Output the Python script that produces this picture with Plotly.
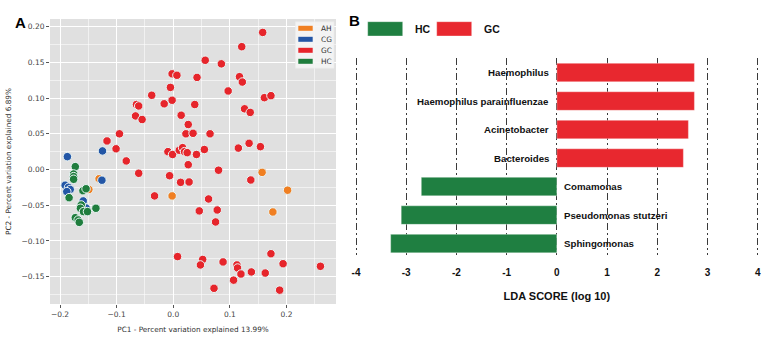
import plotly.graph_objects as go

# ---------------- Panel A : PCA scores ----------------
groups = ["AH", "CG", "GC", "HC"]
group_colors = {"AH": "#F07F22", "CG": "#2356A6", "GC": "#E6252B", "HC": "#1F7D3D"}

ah_pc1 = [-0.131, -0.149, -0.002, 0.157, 0.202, 0.176]
ah_pc2 = [-0.013, -0.028, -0.037, -0.004, -0.029, -0.0595]

cg_pc1 = [-0.187, -0.125, -0.126, -0.191, -0.185, -0.182, -0.188, -0.159, -0.154]
cg_pc2 = [0.018, 0.026, -0.015, -0.022, -0.025, -0.028, -0.031, -0.044, -0.054]

gc_pc1 = [0.158, 0.121, 0.0565, 0.085, -0.002, 0.0065, 0.042, 0.117, 0.122, -0.005,
          0.097, -0.038, 0.161, 0.1726, -0.002, -0.016, -0.065, -0.061, 0.038, 0.126,
          0.136, 0.014, -0.0666, -0.055, 0.0265, 0.0224, 0.035, 0.065, -0.095, -0.117,
          -0.101, 0.115, 0.134, 0.154, -0.0094, -0.0012, 0.0106, 0.0165, 0.020, 0.0247,
          0.041, 0.055, -0.083, 0.0265, 0.080, -0.061, -0.0065, 0.013, 0.028, 0.137,
          -0.033, 0.0624, 0.046, 0.0777, 0.0748, 0.0076, 0.052, 0.048, 0.088, 0.1125,
          0.1136, 0.1196, 0.1066, 0.138, 0.1625, 0.1726, 0.194, 0.188, 0.072, 0.260]
gc_pc2 = [0.192, 0.172, 0.153, 0.148, 0.134, 0.132, 0.129, 0.130, 0.1225, 0.115,
          0.110, 0.104, 0.1006, 0.1034, 0.097, 0.092, 0.091, 0.089, 0.091, 0.085,
          0.080, 0.076, 0.075, 0.070, 0.063, 0.050, 0.0507, 0.050, 0.050, 0.040,
          0.029, 0.030, 0.0367, 0.032, 0.025, 0.021, 0.027, 0.0306, 0.025, 0.0236,
          0.021, 0.028, 0.012, 0.0067, -0.001, -0.0053, -0.0087, -0.018, -0.0175, -0.0147,
          -0.037, -0.0413, -0.058, -0.0567, -0.0735, -0.122, -0.126, -0.1337, -0.1295, -0.1337,
          -0.138, -0.1464, -0.155, -0.1435, -0.145, -0.118, -0.132, -0.169, -0.1664, -0.1356]

hc_pc1 = [-0.173, -0.176, -0.176, -0.176, -0.184, -0.1595, -0.154, -0.1625, -0.164,
          -0.1585, -0.1515, -0.1366, -0.173, -0.168, -0.166]
hc_pc2 = [0.004, -0.0063, -0.010, -0.0137, -0.0395, -0.0297, -0.027, -0.0497, -0.0543,
          -0.059, -0.059, -0.0543, -0.0675, -0.0707, -0.074]

pc1 = {"AH": ah_pc1, "CG": cg_pc1, "GC": gc_pc1, "HC": hc_pc1}
pc2 = {"AH": ah_pc2, "CG": cg_pc2, "GC": gc_pc2, "HC": hc_pc2}

# ---------------- Panel B : LEfSe LDA scores ----------------
taxa = ["Haemophilus", "Haemophilus parainfluenzae", "Acinetobacter", "Bacteroides",
        "Comamonas", "Pseudomonas stutzeri", "Sphingomonas"]
lda_score = [2.74, 2.74, 2.62, 2.52, -2.70, -3.10, -3.31]
lda_group = ["GC", "GC", "GC", "GC", "HC", "HC", "HC"]
lda_groups = ["HC", "GC"]
lda_colors = {"HC": "#1F7F41", "GC": "#E8282F"}
lda_ticks = [-4, -3, -2, -1, 0, 1, 2, 3, 4]
lda_ticktext = ["-4", "-3", "-2", "-1", "0", "1", "2", "3", "4"]

W, H = 767, 342
fig = go.Figure()

dv = "DejaVu Sans"
ar = "Liberation Sans"

for g in groups:
    fig.add_trace(go.Scatter(
        x=pc1[g], y=pc2[g], mode="markers", name=g, showlegend=False,
        xaxis="x", yaxis="y",
        marker=dict(size=8.5, color=group_colors[g], line=dict(width=1, color="#EAF5F5")),
    ))

for g in lda_groups:
    xs = [v for v, gg in zip(lda_score, lda_group) if gg == g]
    ys = [t for t, gg in zip(taxa, lda_group) if gg == g]
    fig.add_trace(go.Bar(
        x=xs, y=ys, orientation="h", name=g, showlegend=False, xaxis="x2", yaxis="y2",
        marker=dict(color=lda_colors[g], line=dict(width=1, color="rgba(255,255,255,0.35)")),
    ))

annotations = []
shapes = [dict(type="rect", xref="x domain", yref="y domain", x0=0, x1=1, y0=0, y1=1,
               fillcolor="#E0E0E0", line=dict(width=0), layer="below")]

# bar labels next to the zero line
for t, v in zip(taxa, lda_score):
    annotations.append(dict(
        x=0, y=t, xref="x2", yref="y2", text=t, showarrow=False,
        xanchor="right" if v > 0 else "left", xshift=-6 if v > 0 else 5,
        font=dict(family=ar, size=9.7, color="#111", weight="bold"),
    ))
annotations.append(dict(x=12.5 / W, y=1 - 11.7 / H, xref="paper", yref="paper", text="A",
                        showarrow=False, font=dict(family=ar, size=15, color="black", weight="bold")))
annotations.append(dict(x=354 / W, y=1 - 10.3 / H, xref="paper", yref="paper", text="B",
                        showarrow=False, font=dict(family=ar, size=15, color="black", weight="bold")))

# compact legend for panel A (matplotlib-style patches)
leg_left, leg_right, leg_top, row_h = 295.5, 334.0, 21.7, 11.0
shapes.append(dict(type="rect", xref="paper", yref="paper",
                   x0=leg_left / W, x1=leg_right / W,
                   y0=1 - (leg_top + 4 * row_h + 2.5) / H, y1=1 - leg_top / H,
                   fillcolor="rgba(245,245,245,0.9)", line=dict(width=0.6, color="rgba(235,235,235,1)"),
                   layer="above"))
for i, g in enumerate(groups):
    cy = leg_top + 6.6 + i * row_h
    shapes.append(dict(type="rect", xref="paper", yref="paper",
                       x0=298.3 / W, x1=312.7 / W, y0=1 - (cy + 2.5) / H, y1=1 - (cy - 2.5) / H,
                       fillcolor=group_colors[g], line=dict(width=0), layer="above"))
    annotations.append(dict(x=318.5 / W, y=1 - cy / H, xref="paper", yref="paper", text=g,
                            xanchor="left", yanchor="middle", showarrow=False,
                            font=dict(family=dv, size=7.4, color="#333")))

# legend for panel B (wide colour patches + bold labels)
legB_x0, legB_step, legB_w, legB_top, legB_bot = 367.7, 69.0, 35.0, 21.7, 36.0
for i, g in enumerate(lda_groups):
    x0 = legB_x0 + i * legB_step
    shapes.append(dict(type="rect", xref="paper", yref="paper",
                       x0=x0 / W, x1=(x0 + legB_w) / W, y0=1 - legB_bot / H, y1=1 - legB_top / H,
                       fillcolor=lda_colors[g], line=dict(width=1, color="rgba(255,255,255,0.35)"),
                       layer="above"))
    annotations.append(dict(x=(x0 + legB_w + 10) / W, y=1 - (legB_top + legB_bot) / 2 / H,
                            xref="paper", yref="paper", text=g, xanchor="left", yanchor="middle",
                            showarrow=False,
                            font=dict(family=ar, size=10.5, color="#111", weight="bold")))

fig.update_layout(
    width=W, height=H, margin=dict(l=0, r=0, t=0, b=0),
    paper_bgcolor="white", plot_bgcolor="white", showlegend=False,
    barmode="overlay", bargap=0.35,
    annotations=annotations, shapes=shapes,
    xaxis=dict(
        domain=[50 / W, 336 / W], range=[-0.2177, 0.2875], anchor="y",
        dtick=0.1, tick0=0, tickformat=".1f", showgrid=True, gridcolor="white", gridwidth=1.3,
        minor=dict(dtick=0.05, showgrid=True, gridcolor="rgba(255,255,255,0.55)", gridwidth=0.7),
        zeroline=False, showline=False, ticks="outside", ticklen=3, tickcolor="#555",
        tickfont=dict(family=dv, size=7.5, color="#444"), automargin=False,
        title=dict(text="PC1 - Percent variation explained 13.99%", standoff=8,
                   font=dict(family=dv, size=7.3, color="#333")),
    ),
    yaxis=dict(
        domain=[1 - 304 / H, 1 - 19 / H], range=[-0.1884, 0.2108], anchor="x",
        dtick=0.05, tick0=0, tickformat=".2f", showgrid=True, gridcolor="white", gridwidth=1.3,
        minor=dict(dtick=0.025, showgrid=True, gridcolor="rgba(255,255,255,0.55)", gridwidth=0.7),
        zeroline=False, showline=False, ticks="outside", ticklen=3, tickcolor="#555",
        tickfont=dict(family=dv, size=7.5, color="#444"), automargin=False,
        title=dict(text="PC2 - Percent variation explained 6.89%", standoff=8,
                   font=dict(family=dv, size=7.3, color="#333")),
    ),
    xaxis2=dict(
        domain=[351 / W, 762.7 / W], range=[-4.1, 4.1], anchor="y2",
        tickvals=lda_ticks, ticktext=lda_ticktext, showgrid=True, gridcolor="#3A3A3A",
        gridwidth=1, griddash="7px,3px,2px,3px", zeroline=False, showline=False,
        ticks="outside", ticklen=8, tickcolor="rgba(0,0,0,0)",
        tickfont=dict(family=ar, size=10, color="#111", weight="bold"), automargin=False,
        title=dict(text="LDA SCORE (log 10)", standoff=15,
                   font=dict(family=ar, size=11, color="#111", weight="bold")),
    ),
    yaxis2=dict(
        domain=[1 - 255 / H, 1 - 58 / H], anchor="x2", type="category",
        categoryorder="array", categoryarray=taxa, range=[6.40, -0.51],
        showticklabels=False, showgrid=False, zeroline=False, showline=False, automargin=False,
    ),
)

fig.write_html("out.html", config={"displayModeBar": False},
               post_script="document.body.style.margin='0px';")
